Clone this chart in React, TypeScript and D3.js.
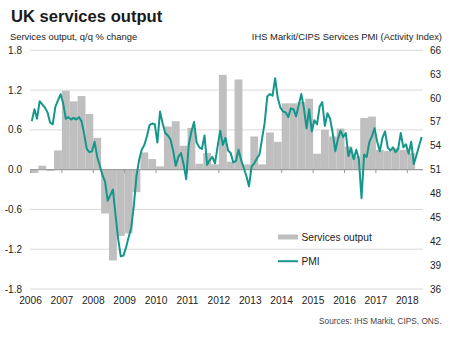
import React from "react";
import * as d3 from "d3";

// ---- Data ----
const yearLabels = [2006, 2007, 2008, 2009, 2010, 2011, 2012, 2013, 2014, 2015, 2016, 2017, 2018];
const leftTicks = [1.8, 1.2, 0.6, 0.0, -0.6, -1.2, -1.8];
const rightTicks = [66, 63, 60, 57, 54, 51, 48, 45, 42, 39, 36];

// Services output, q/q % change, quarterly from 2006 Q1
const servicesOutput = [
  -0.05, 0.06, -0.02, 0.29,
  1.19, 1.03, 1.11, 0.84,
  0.48, -0.66, -1.37, -1.0,
  -0.96, -0.34, 0.26, 0.16,
  0.05, 0.65, 0.73, 0.36,
  0.63, 0.09, 0.25, 0.08,
  1.43, 0.12, 1.36, 0.08,
  0.5, 0.08, 0.56, 0.42,
  1.0, 1.0, 1.02, 1.07,
  0.24, 0.6, 0.5, 0.62,
  0.35, 0.2, 0.78, 0.8,
  0.3, 0.28, 0.33, 0.3,
  0.25,
];

// Services PMI, monthly from Jan 2006
const pmi2006 = [57.1, 58.6, 57.4, 59.6, 59.2, 58.8, 58.2, 56.9, 56.7, 58.9, 59.7, 60.5];
const pmi2007 = [59.3, 57.4, 57.6, 57.3, 57.5, 57.3, 57.6, 57.1, 55.5, 53.6, 53.2, 53.3];
const pmi2008 = [54.5, 52.6, 51.5, 50.3, 49.5, 47.1, 47.8, 48.5, 45.3, 42.3, 40.1, 40.2];
const pmi2009 = [41.2, 42.5, 43.7, 46.5, 50.2, 52.2, 53.5, 54.1, 55.2, 56.6, 56.8, 56.7];
const pmi2010 = [54.4, 58.3, 56.8, 55.6, 55.3, 54.8, 53.4, 51.5, 52.6, 53.1, 51.7, 49.8];
const pmi2011 = [54.2, 55.8, 57.0, 54.4, 53.8, 53.6, 55.3, 51.6, 52.2, 52.6, 51.8, 53.9];
const pmi2012 = [55.9, 54.1, 55.0, 53.4, 53.1, 51.9, 52.1, 53.5, 52.2, 51.2, 50.2, 48.9];
const pmi2013 = [51.4, 51.8, 52.4, 52.9, 54.9, 56.9, 60.2, 60.5, 60.3, 62.5, 60.0, 58.8];
const pmi2014 = [58.3, 58.2, 57.6, 58.7, 58.6, 57.7, 59.1, 60.5, 58.7, 56.2, 58.6, 55.8];
const pmi2015 = [57.2, 56.7, 58.9, 59.5, 56.5, 58.1, 57.4, 55.6, 53.3, 54.9, 55.9, 55.1];
const pmi2016 = [55.6, 52.7, 53.7, 52.3, 53.5, 52.3, 47.4, 52.9, 52.6, 54.5, 55.2, 56.2];
const pmi2017 = [54.5, 53.3, 55.0, 55.8, 53.8, 53.4, 53.8, 53.2, 53.6, 55.6, 53.8, 54.2];
const pmi2018 = [53.0, 54.5, 51.7, 52.8, 54.0, 55.1];
const pmi = [
  ...pmi2006, ...pmi2007, ...pmi2008, ...pmi2009, ...pmi2010, ...pmi2011, ...pmi2012,
  ...pmi2013, ...pmi2014, ...pmi2015, ...pmi2016, ...pmi2017, ...pmi2018,
];

const FONT = "'Liberation Sans', Arial, Helvetica, sans-serif";
const BAR = "#bfbfbf";
const LINE = "#14978b";

export default function App() {
  const W = 464, H = 337;
  const plotLeft = 30, plotRight = 423;
  const x = d3.scaleLinear().domain([2006, 2018.5]).range([30.5, 423]);
  const yL = d3.scaleLinear().domain([-1.8, 1.8]).range([289, 50.3]);
  const yR = d3.scaleLinear().domain([36, 66]).range([289, 50.3]);

  const line = d3
    .line<number>()
    .x((_, i) => x(2006 + (i + 0.5) / 12))
    .y((d) => yR(d))
    .curve(d3.curveLinear);

  const zeroY = yL(0);

  return (
    <svg
      width={W}
      height={H}
      viewBox={`0 0 ${W} ${H}`}
      style={{ position: "absolute", left: 0, top: 0, background: "#fff" }}
      fontFamily={FONT}
    >
      <rect x={0} y={0} width={W} height={H} fill="#fff" />
      <text x={11} y={21.5} fontSize={16.6} fontWeight="bold" fill="#1a1a1a">
        UK services output
      </text>
      <text x={10} y={39.5} fontSize={9.4} fill="#222">
        Services output, q/q % change
      </text>
      <text x={442} y={39.5} fontSize={9.4} fill="#222" textAnchor="end">
        IHS Markit/CIPS Services PMI (Activity Index)
      </text>

      {/* gridlines */}
      {leftTicks.map((t) => (
        <line
          key={"g" + t}
          x1={plotLeft}
          x2={plotRight}
          y1={yL(t)}
          y2={yL(t)}
          stroke={t === 0 ? "#9a9a9a" : "#d9d9d9"}
          strokeWidth={1}
        />
      ))}

      {/* bars */}
      {servicesOutput.map((v, k) => {
        const x0 = x(2006 + k / 4);
        const x1 = x(2006 + (k + 1) / 4);
        const y0 = yL(Math.max(0, v));
        const y1 = yL(Math.min(0, v));
        return (
          <rect key={"b" + k} x={x0} y={y0} width={x1 - x0} height={Math.max(0.5, y1 - y0)} fill={BAR} />
        );
      })}

      {/* zero axis & ticks */}
      <line x1={plotLeft} x2={plotRight} y1={zeroY} y2={zeroY} stroke="#9a9a9a" strokeWidth={1} />
      {yearLabels.map((yr) => (
        <line key={"t" + yr} x1={x(yr)} x2={x(yr)} y1={zeroY} y2={zeroY + 3.5} stroke="#9a9a9a" strokeWidth={1} />
      ))}

      {/* PMI line */}
      <path d={line(pmi) || ""} fill="none" stroke={LINE} strokeWidth={2} strokeLinejoin="round" />

      {/* left axis labels */}
      {leftTicks.map((t) => (
        <text key={"l" + t} x={22} y={yL(t)} dy="0.35em" fontSize={10} fill="#222" textAnchor="end">
          {t.toFixed(1)}
        </text>
      ))}
      {/* right axis labels */}
      {rightTicks.map((t) => (
        <text key={"r" + t} x={430} y={yR(t)} dy="0.35em" fontSize={10} fill="#222">
          {t}
        </text>
      ))}
      {/* x axis labels */}
      {yearLabels.map((yr) => (
        <text key={"x" + yr} x={x(yr)} y={304} fontSize={10.2} fill="#222" textAnchor="middle">
          {yr}
        </text>
      ))}

      {/* legend */}
      <rect x={278} y={234.5} width={20} height={5} fill={BAR} />
      <text x={301.5} y={237.2} dy="0.35em" fontSize={10.2} fill="#222">
        Services output
      </text>
      <line x1={278} x2={298} y1={261.2} y2={261.2} stroke={LINE} strokeWidth={2} />
      <text x={301.5} y={261.5} dy="0.35em" fontSize={10.2} fill="#222">
        PMI
      </text>

      <text x={441.7} y={324} fontSize={8.3} fill="#444" textAnchor="end">
        Sources: IHS Markit, CIPS, ONS.
      </text>
    </svg>
  );
}
